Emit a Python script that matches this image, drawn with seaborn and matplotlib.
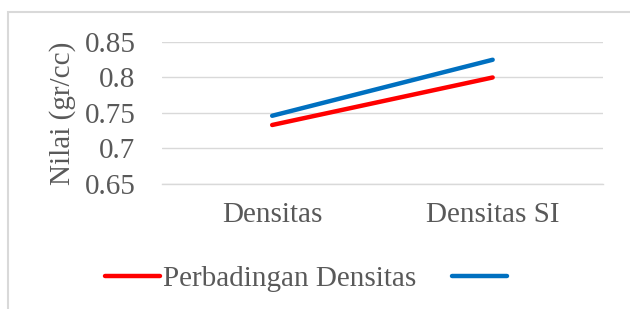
import numpy as np
import pandas as pd
import matplotlib
matplotlib.use("Agg")
import matplotlib.pyplot as plt
import seaborn as sns
from matplotlib.patches import Rectangle

# data
categories = ["Densitas", "Densitas SI"]
red_values = [0.733, 0.800]
blue_values = [0.746, 0.825]
series_names = ["Perbadingan Densitas", " "]
y_ticks = [0.65, 0.7, 0.75, 0.8, 0.85]
y_tick_labels = ["0.65", "0.7", "0.75", "0.8", "0.85"]

df = pd.DataFrame({
    "kategori": categories * 2,
    "nilai": red_values + blue_values,
    "seri": [series_names[0]] * 2 + [series_names[1]] * 2,
})

sns.set_style("white")
plt.rcParams["font.family"] = ["Liberation Serif", "DejaVu Serif"]
grey = "#595959"
fs = 21

fig = plt.figure(figsize=(6.3, 3.09), dpi=100)
ax = fig.add_axes([0.257, 0.405, 0.70, 0.459])

sns.lineplot(data=df, x="kategori", y="nilai", hue="seri",
             palette=["#FF0000", "#0070C0"], linewidth=3.2,
             solid_capstyle="round", ax=ax, legend=False, sort=False)

ax.set_xlim(-0.5, 1.5)
ax.set_ylim(0.65, 0.85)
ax.set_yticks(y_ticks)
ax.set_yticklabels(y_tick_labels)
ax.yaxis.grid(True, color="#D9D9D9", linewidth=1.0)
ax.set_axisbelow(True)
for s in ["top", "right", "left"]:
    ax.spines[s].set_visible(False)
ax.spines["bottom"].set_color("#D9D9D9")
ax.spines["bottom"].set_linewidth(1.0)
ax.tick_params(axis="both", length=0, labelsize=fs, colors=grey)
ax.tick_params(axis="y", pad=19)
ax.tick_params(axis="x", pad=13)
ax.set_xlabel("")
ax.set_ylabel("Nilai (gr/cc)", fontsize=fs, color=grey, labelpad=6)

handles = ax.get_lines()[:2]
fig.legend(handles, series_names, loc="center", bbox_to_anchor=(0.494, 0.098),
           ncol=2, frameon=False, fontsize=fs, labelcolor=grey,
           handlelength=1.9, handletextpad=0.12, columnspacing=1.2)

# outer chart frame
fig.patches.append(Rectangle((8 / 630, -0.05), 1.0, 1 - 12 / 309 + 0.05,
                             transform=fig.transFigure, fill=False,
                             edgecolor="#D9D9D9", linewidth=1.5))

fig.savefig("out.png", dpi=100)
